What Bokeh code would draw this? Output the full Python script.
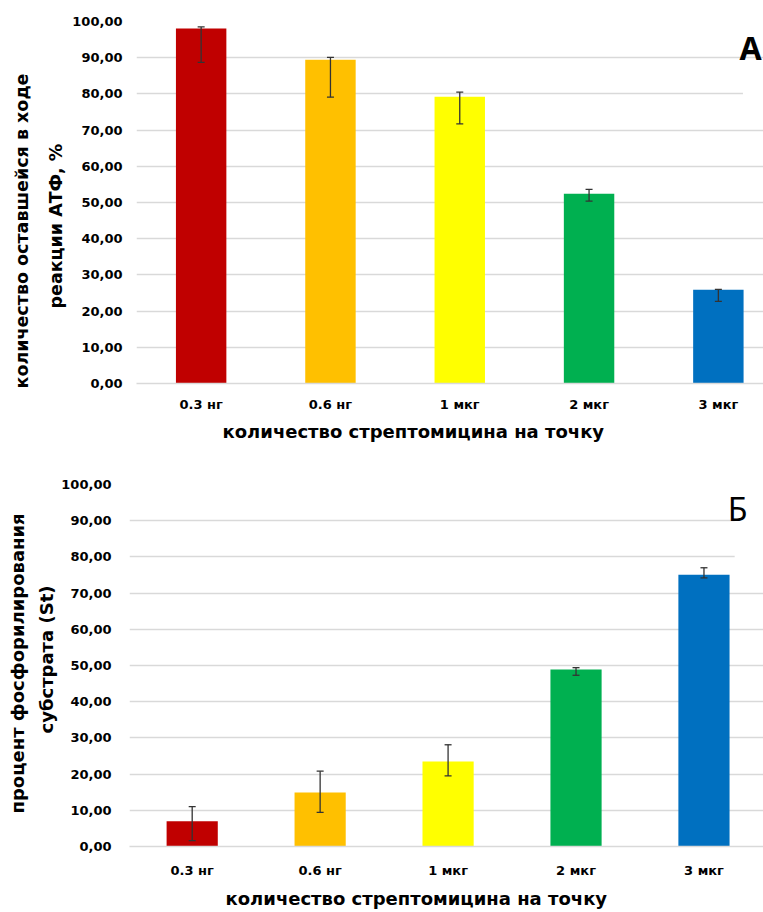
from bokeh.plotting import figure
from bokeh.models import (Range1d, FixedTicker, Whisker, TeeHead, ColumnDataSource,
                          Label, BoxAnnotation, Title)
from bokeh.embed import file_html
from bokeh.resources import INLINE

# ---------------- data ----------------
categories = ["0.3 нг", "0.6 нг", "1 мкг", "2 мкг", "3 мкг"]
bar_colors = ["#C00000", "#FFC000", "#FFFF00", "#00B050", "#0070C0"]

atp_values = [98.1, 89.4, 79.2, 52.4, 25.9]
atp_err_low = [88.7, 79.1, 71.7, 50.4, 22.7]
atp_err_high = [98.5, 90.1, 80.5, 53.6, 26.0]

phos_values = [7.0, 14.9, 23.5, 48.9, 75.1]
phos_err_low = [1.6, 9.4, 19.5, 47.3, 74.2]
phos_err_high = [11.0, 20.8, 28.1, 49.4, 77.0]

y_ticks = [0, 10, 20, 30, 40, 50, 60, 70, 80, 90, 100]

x_title = "количество стрептомицина на точку"
a_ytitle = ["количество оставшейся в ходе", "реакции АТФ, %"]
b_ytitle = ["процент фосфорилирования", "субстрата (St)"]

GRID = "#D9D9D9"
FONT = "DejaVu Sans"


def make_panel(values, lows, highs, frame_w, frame_h, b_left, b_top, b_bottom,
               x_start, x_end, bar_w, ylab_standoff, xlab_standoff,
               xt, ylines, letter, box):
    idx = list(range(len(categories)))
    src = ColumnDataSource(dict(x=idx, top=values, lower=lows, upper=highs,
                                color=bar_colors))
    p = figure(frame_width=frame_w, frame_height=frame_h,
               min_border_left=b_left, min_border_right=0,
               min_border_top=b_top, min_border_bottom=b_bottom,
               x_range=Range1d(x_start, x_end), y_range=Range1d(0, 100),
               output_backend="svg", toolbar_location=None,
               background_fill_color="white", border_fill_color="white")
    p.outline_line_color = None

    p.vbar(x="x", top="top", width=bar_w, color="color", line_color=None, source=src)
    w = Whisker(base="x", lower="lower", upper="upper", source=src, level="overlay",
                line_color="#333333", line_width=1.3,
                upper_head=TeeHead(size=7, line_color="#333333", line_width=1.3),
                lower_head=TeeHead(size=7, line_color="#333333", line_width=1.3))
    p.add_layout(w)

    # y axis
    p.yaxis.ticker = FixedTicker(ticks=y_ticks)
    p.yaxis.major_label_overrides = {t: f"{t:.2f}".replace(".", ",") for t in y_ticks}
    p.yaxis.axis_line_color = None
    p.yaxis.major_tick_line_color = None
    p.yaxis.major_tick_out = 0
    p.yaxis.major_tick_in = 0
    p.yaxis.minor_tick_line_color = None
    p.yaxis.major_label_standoff = ylab_standoff
    p.yaxis.major_label_text_font = FONT
    p.yaxis.major_label_text_font_style = "bold"
    p.yaxis.major_label_text_font_size = "13px"
    p.yaxis.major_label_text_color = "#000000"
    p.ygrid.grid_line_color = GRID
    p.ygrid.grid_line_width = 1.6

    # x axis
    p.xaxis.ticker = FixedTicker(ticks=idx)
    p.xaxis.major_label_overrides = {i: c for i, c in zip(idx, categories)}
    p.xaxis.axis_line_color = GRID
    p.xaxis.axis_line_width = 1.6
    p.xaxis.major_tick_line_color = None
    p.xaxis.major_tick_out = 0
    p.xaxis.major_tick_in = 0
    p.xaxis.minor_tick_line_color = None
    p.xaxis.major_label_standoff = xlab_standoff
    p.xaxis.major_label_text_font = FONT
    p.xaxis.major_label_text_font_style = "bold"
    p.xaxis.major_label_text_font_size = "13px"
    p.xaxis.major_label_text_color = "#000000"
    p.xgrid.grid_line_color = None

    # white box hiding the grid behind the panel letter
    bl, bb, bt = box
    p.add_layout(BoxAnnotation(left=bl, bottom=bb, top=bt, fill_color="white",
                               fill_alpha=1.0, line_color=None))

    # x title
    xt_off, xt_size, xt_stand = xt
    p.add_layout(Title(text=x_title, align="left", offset=xt_off, standoff=xt_stand,
                       vertical_align="middle", text_font=FONT,
                       text_font_style="bold", text_font_size=xt_size,
                       text_color="#000000"), "below")
    # y titles (inner line first)
    for (off, size, stand, txt) in ylines:
        p.add_layout(Title(text=txt, align="left", offset=off, standoff=stand,
                           vertical_align="middle", text_font=FONT,
                           text_font_style="bold", text_font_size=size,
                           text_color="#000000"), "left")

    lx, ly, ltxt, lstyle = letter
    p.add_layout(Label(x=lx, y=ly, x_units="screen", y_units="screen", text=ltxt,
                       text_align="center", text_baseline="middle",
                       text_font="Noto Sans", text_font_style=lstyle,
                       text_font_size="32px", text_color="#000000"))
    return p


pA = make_panel(atp_values, atp_err_low, atp_err_high,
                frame_w=631, frame_h=362, b_left=132, b_top=21, b_bottom=61,
                x_start=-0.5, x_end=4.38, bar_w=0.39,
                ylab_standoff=14, xlab_standoff=13,
                xt=(86, "18px", 11),
                ylines=[(75, "17.5px", 5, a_ytitle[1]),
                        (-5, "17.5px", 20, a_ytitle[0])],
                letter=(614, 336, "А", "bold"),
                box=(4.19, 75, 85))

pB = make_panel(phos_values, phos_err_low, phos_err_high,
                frame_w=641, frame_h=362, b_left=122, b_top=36, b_bottom=64,
                x_start=-0.49, x_end=4.52, bar_w=0.40,
                ylab_standoff=18, xlab_standoff=16,
                xt=(96, "18px", 12),
                ylines=[(113, "18px", 1, b_ytitle[1]),
                        (33, "18px", 11, b_ytitle[0])],
                letter=(608, 338, "Б", "normal"),
                box=(4.24, 77, None))

open("out.html", "w").write(file_html([pA, pB], INLINE))
